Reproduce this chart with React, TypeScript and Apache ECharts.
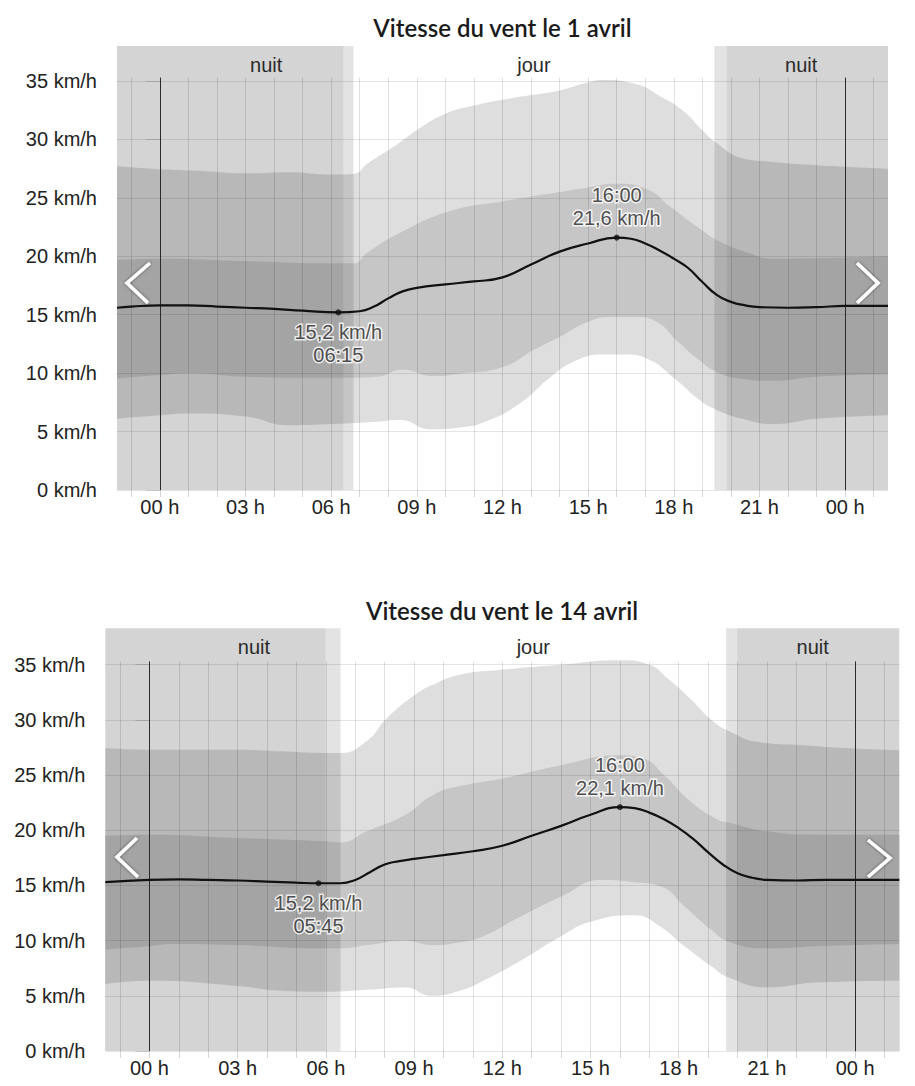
import React, { useEffect, useRef } from "react";
import * as echarts from "echarts";

// ---------- shared axes ----------
const HOUR_MIN = -1.5;
const HOUR_MAX = 25.5;
const X_LABEL_HOURS = [0, 3, 6, 9, 12, 15, 18, 21, 24];
const GRID_HOURS = [-1, 0, 1, 2, 3, 4, 5, 6, 7, 8, 9, 10, 11, 12, 13, 14, 15, 16, 17, 18, 19, 20, 21, 22, 23, 24, 25];
const Y_TICKS = [0, 5, 10, 15, 20, 25, 30, 35];
const V_LINE_TOP = 35.3;

// ---------- chart 1 : 1 avril ----------
const TITLE_1 = "Vitesse du vent le 1 avril";
const MEDIAN_1: [number, number][] = [
  [-1.5, 15.6], [-1, 15.7], [0, 15.8], [1, 15.8], [2, 15.7], [3, 15.6], [4, 15.5], [5, 15.35],
  [6.25, 15.2], [7, 15.3], [7.5, 15.7], [8, 16.4], [8.5, 17.0], [9, 17.3], [10, 17.6], [11, 17.85],
  [12, 18.2], [13, 19.3], [14, 20.4], [15, 21.1], [16, 21.6], [16.5, 21.5], [17, 21.1], [17.5, 20.5],
  [18, 19.8], [18.5, 19.0], [19, 17.8], [19.5, 16.7], [20, 16.1], [20.5, 15.8], [21, 15.65], [22, 15.6],
  [23, 15.65], [24, 15.75], [25.5, 15.75],
];
const OUTER_HIGH_1: [number, number][] = [
  [-1.5, 27.7], [0, 27.45], [1.5, 27.3], [3, 27.1], [4.5, 27.2], [6, 27.0], [6.8, 27.05], [7.25, 27.9],
  [8.2, 29.4], [9, 30.8], [10, 32.2], [11, 32.9], [12, 33.4], [13, 33.8], [14, 34.2], [15, 34.9],
  [15.5, 35.1], [16.6, 34.8], [17.6, 33.6], [18.3, 32.5], [19, 30.8], [19.5, 29.7], [20.4, 28.4],
  [21.4, 28.1], [23, 27.8], [25.5, 27.5],
];
const INNER_HIGH_1: [number, number][] = [
  [-1.5, 19.7], [0, 19.8], [3, 19.6], [6, 19.4], [6.8, 19.4], [7.25, 20.3], [8.4, 22.0], [10.2, 23.9],
  [12, 24.7], [14, 25.5], [15, 25.9], [16, 26.2], [17, 25.8], [17.9, 24.2], [19, 22.2], [19.5, 21.4],
  [20.6, 20.3], [21.5, 19.8], [24, 19.9], [25.5, 20.0],
];
const INNER_LOW_1: [number, number][] = [
  [-1.5, 9.55], [0, 9.85], [1, 10.0], [3, 9.7], [6, 9.6], [7.6, 9.7], [8.5, 10.3], [9.6, 9.75],
  [10.5, 9.95], [12, 10.5], [13.1, 12.0], [14, 13.1], [15, 14.4], [15.8, 14.8], [16.7, 14.8],
  [17.4, 14.4], [18.1, 12.8], [18.9, 11.1], [19.5, 10.1], [20.3, 9.55], [21.5, 9.35], [23, 9.7], [25.5, 9.9],
];
const OUTER_LOW_1: [number, number][] = [
  [-1.5, 6.1], [0, 6.4], [1, 6.55], [3, 6.3], [4.5, 5.55], [6, 5.65], [7.6, 5.85], [8.4, 6.0],
  [9.5, 5.2], [10.5, 5.35], [11.4, 5.85], [12.6, 7.4], [13.7, 9.7], [14.6, 11.1], [15.5, 11.6],
  [16.3, 11.6], [17, 11.3], [18.1, 9.4], [18.9, 7.7], [19.5, 6.85], [20.4, 6.1], [21.5, 5.65], [23, 6.1], [25.5, 6.4],
];
const NIGHTS_1: [number, number][] = [[-1.5, 6.43], [19.85, 25.5]];
const TWILIGHTS_1: [number, number][] = [[6.43, 6.78], [19.42, 19.85]];
const PERIOD_BOUNDS_1: [number, number][] = [[-1.5, 6.78], [6.78, 19.42], [19.42, 25.5]];
const MIN_POINT_1: [number, number] = [6.25, 15.2];
const MAX_POINT_1: [number, number] = [16, 21.6];

// ---------- chart 2 : 14 avril ----------
const TITLE_2 = "Vitesse du vent le 14 avril";
const MEDIAN_2: [number, number][] = [
  [-1.5, 15.3], [0, 15.5], [1, 15.55], [2, 15.5], [3, 15.45], [4, 15.35], [5, 15.25], [5.75, 15.2],
  [6.5, 15.2], [7, 15.5], [7.5, 16.2], [8, 16.9], [8.5, 17.2], [9, 17.4], [10, 17.75], [11, 18.1],
  [12, 18.6], [13, 19.5], [14, 20.4], [15, 21.4], [16, 22.1], [16.5, 22.0], [17, 21.6], [17.5, 21.0],
  [18, 20.2], [18.5, 19.2], [19, 18.0], [19.5, 16.9], [20, 16.1], [20.5, 15.7], [21, 15.5], [22, 15.45],
  [23, 15.5], [24, 15.5], [25.5, 15.5],
];
const OUTER_HIGH_2: [number, number][] = [
  [-1.5, 27.45], [0, 27.3], [3, 27.3], [4.5, 27.15], [6, 27.0], [6.5, 27.0], [7.4, 28.1], [8.06, 30.1],
  [9, 32.2], [9.65, 33.2], [10.56, 34.1], [12, 34.55], [14, 35.0], [16, 35.4], [17, 35.0], [17.65, 33.7],
  [18.4, 31.9], [19.2, 29.8], [19.7, 29.0], [20.7, 28.0], [22.2, 27.7], [24, 27.4], [25.5, 27.25],
];
const INNER_HIGH_2: [number, number][] = [
  [-1.5, 19.5], [0, 19.6], [3, 19.3], [6, 19.0], [6.5, 18.9], [7.4, 19.9], [8.7, 21.4], [9.65, 23.2],
  [10.56, 24.0], [12, 24.7], [14, 25.9], [16, 26.8], [16.8, 26.5], [17.5, 25.0], [18.4, 22.6],
  [19.3, 21.0], [19.7, 20.7], [21, 19.9], [22.7, 19.6], [25.5, 19.6],
];
const INNER_LOW_2: [number, number][] = [
  [-1.5, 9.2], [0, 9.5], [0.8, 9.7], [3, 9.6], [6, 9.3], [6.5, 9.3], [7.4, 9.6], [8.7, 10.0],
  [9.65, 9.6], [10.56, 9.85], [11.35, 10.4], [12.5, 12.0], [14, 14.0], [15.4, 15.5], [16.5, 15.3],
  [17.4, 14.9], [18.2, 13.1], [19.1, 11.0], [19.7, 9.9], [21, 9.3], [22.7, 9.5], [25.5, 9.7],
];
const OUTER_LOW_2: [number, number][] = [
  [-1.5, 6.06], [0, 6.36], [3, 5.9], [4.5, 5.46], [6, 5.37], [7.4, 5.55], [8.7, 5.76], [9.6, 5.0],
  [10.56, 5.46], [11.35, 6.36], [12.5, 8.0], [14, 10.4], [15, 11.7], [16.5, 12.3], [17.3, 11.4],
  [18.2, 9.5], [19.1, 7.7], [19.7, 6.65], [21, 5.76], [22.7, 6.2], [25.5, 6.36],
];
const NIGHTS_2: [number, number][] = [[-1.5, 5.99], [19.99, 25.5]];
const TWILIGHTS_2: [number, number][] = [[5.99, 6.5], [19.61, 19.99]];
const PERIOD_BOUNDS_2: [number, number][] = [[-1.5, 6.5], [6.5, 19.61], [19.61, 25.5]];
const MIN_POINT_2: [number, number] = [5.75, 15.2];
const MAX_POINT_2: [number, number] = [16, 22.1];

const PERIOD_NAMES = ["nuit", "jour", "nuit"];

// ---------- helpers ----------
const FONT = "Liberation Sans";
const pad = (n: number) => (n < 10 ? "0" + n : String(n));
const fmtTime = (h: number) => {
  const hh = Math.floor(h);
  const mm = Math.round((h - hh) * 60);
  return pad(hh) + ":" + pad(mm);
};
const fmtSpeed = (v: number) => v.toFixed(1).replace(".", ",") + " km/h";

interface ChartCfg {
  title: string;
  median: [number, number][];
  outerHigh: [number, number][];
  innerHigh: [number, number][];
  innerLow: [number, number][];
  outerLow: [number, number][];
  nights: [number, number][];
  twilights: [number, number][];
  periods: [number, number][];
  minPoint: [number, number];
  maxPoint: [number, number];
  grid: { left: number; top: number; width: number; height: number };
  yMax: number;
  titleX: number;
  titleY: number;
  periodShift: number[];
  chevrons: [number, number][][];
}

const CHARTS: ChartCfg[] = [
  {
    title: TITLE_1, median: MEDIAN_1, outerHigh: OUTER_HIGH_1, innerHigh: INNER_HIGH_1,
    innerLow: INNER_LOW_1, outerLow: OUTER_LOW_1, nights: NIGHTS_1, twilights: TWILIGHTS_1,
    periods: PERIOD_BOUNDS_1, minPoint: MIN_POINT_1, maxPoint: MAX_POINT_1,
    grid: { left: 109, top: 38, width: 771, height: 444 }, yMax: 38,
    titleX: 494.5, titleY: 19, periodShift: [31, 0, 0],
    chevrons: [
      [[142, 255], [119, 275], [140, 295]],
      [[849, 255], [870, 275], [849, 295]],
    ],
  },
  {
    title: TITLE_2, median: MEDIAN_2, outerHigh: OUTER_HIGH_2, innerHigh: INNER_HIGH_2,
    innerLow: INNER_LOW_2, outerLow: OUTER_LOW_2, nights: NIGHTS_2, twilights: TWILIGHTS_2,
    periods: PERIOD_BOUNDS_2, minPoint: MIN_POINT_2, maxPoint: MAX_POINT_2,
    grid: { left: 97.3, top: 620.3, width: 794, height: 427.7 }, yMax: 38.3,
    titleX: 494, titleY: 602, periodShift: [31, 0, 0],
    chevrons: [
      [[129, 830], [109, 849], [130, 869]],
      [[860, 832], [882, 850], [860, 869]],
    ],
  },
];

function bandSeries(data: [number, number][], color: string, idx: number, extra: any = {}) {
  return {
    type: "line",
    xAxisIndex: idx,
    yAxisIndex: idx,
    data,
    smooth: 0.5,
    symbol: "none",
    silent: true,
    z: 1,
    lineStyle: { width: 0, opacity: 0 },
    areaStyle: { color, opacity: 1 },
    ...extra,
  };
}

function buildOption() {
  const grids: any[] = [];
  const xAxes: any[] = [];
  const yAxes: any[] = [];
  const series: any[] = [];
  const graphic: any[] = [];

  CHARTS.forEach((cfg, idx) => {
    grids.push({ ...cfg.grid, containLabel: false });
    xAxes.push({
      type: "value",
      gridIndex: idx,
      min: HOUR_MIN,
      max: HOUR_MAX,
      axisLine: { show: false },
      splitLine: { show: false },
      axisTick: { show: true, customValues: GRID_HOURS, length: 7, lineStyle: { color: "#d6d6d6" } },
      axisLabel: {
        customValues: X_LABEL_HOURS,
        formatter: (v: number) => pad(Math.round(v) % 24) + " h",
        margin: 7,
        fontSize: 20,
        fontFamily: FONT,
        color: "#222",
      },
    });
    yAxes.push({
      type: "value",
      gridIndex: idx,
      min: 0,
      max: cfg.yMax,
      axisLine: { show: false },
      splitLine: { show: false },
      axisTick: { show: true, customValues: Y_TICKS, length: 14, lineStyle: { color: "#dcdcdc" } },
      axisLabel: {
        customValues: Y_TICKS,
        formatter: (v: number) => v + " km/h",
        margin: 20,
        fontSize: 20,
        fontFamily: FONT,
        color: "#222",
      },
    });

    const gridLineData: any[] = [];
    Y_TICKS.forEach((v) => {
      const ls = { color: "rgba(0,0,0,0.1)", width: 1, type: "solid" };
      gridLineData.push([{ coord: [HOUR_MIN, v], lineStyle: ls }, { coord: [HOUR_MAX, v], lineStyle: ls }]);
    });
    GRID_HOURS.forEach((h) => {
      const midnight = h % 24 === 0;
      const ls = midnight
        ? { color: "#2a2a2a", width: 1, type: "solid" }
        : { color: "rgba(0,0,0,0.12)", width: 1, type: "solid" };
      gridLineData.push([{ coord: [h, 0], lineStyle: ls }, { coord: [h, V_LINE_TOP], lineStyle: ls }]);
    });

    series.push(bandSeries(cfg.outerHigh, "#dedede", idx));
    series.push(bandSeries(cfg.innerHigh, "#c6c6c6", idx));
    series.push(bandSeries(cfg.innerLow, "#dedede", idx));
    series.push(
      bandSeries(cfg.outerLow, "#ffffff", idx, {
        markLine: {
          silent: true,
          z: 4,
          symbol: ["none", "none"],
          label: { show: false },
          animation: false,
          data: gridLineData,
        },
      })
    );

    const shades = [
      ...cfg.nights.map((r) => ({ from: r[0], to: r[1], fill: "rgba(0,0,0,0.17)" })),
      ...cfg.twilights.map((r) => ({ from: r[0], to: r[1], fill: "rgba(0,0,0,0.11)" })),
    ];
    series.push({
      type: "custom",
      xAxisIndex: idx,
      yAxisIndex: idx,
      z: 3,
      silent: true,
      data: shades.map((s) => [s.from, s.to]),
      encode: { x: [0, 1] },
      renderItem: (params: any, api: any) => {
        const s = shades[params.dataIndex];
        const a = api.coord([s.from, cfg.yMax]);
        const b = api.coord([s.to, 0]);
        return {
          type: "rect",
          shape: { x: a[0], y: a[1], width: b[0] - a[0], height: b[1] - a[1] },
          style: { fill: s.fill },
        };
      },
    });

    series.push({
      type: "custom",
      xAxisIndex: idx,
      yAxisIndex: idx,
      z: 5,
      silent: true,
      data: cfg.periods.map((p) => [p[0], p[1]]),
      encode: { x: [0, 1] },
      renderItem: (params: any, api: any) => {
        const p = cfg.periods[params.dataIndex];
        const a = api.coord([p[0], cfg.yMax]);
        const b = api.coord([p[1], cfg.yMax]);
        return {
          type: "text",
          style: {
            text: PERIOD_NAMES[params.dataIndex],
            x: (a[0] + b[0]) / 2 + cfg.periodShift[params.dataIndex],
            y: a[1] + 19,
            align: "center",
            verticalAlign: "middle",
            textAlign: "center",
            textVerticalAlign: "middle",
            fill: "#2a2a2a",
            font: "20px " + FONT,
          },
        };
      },
    });

    series.push({
      type: "line",
      xAxisIndex: idx,
      yAxisIndex: idx,
      data: cfg.median,
      smooth: 0.5,
      symbol: "none",
      silent: true,
      z: 6,
      lineStyle: { color: "#111", width: 2.2 },
    });

    const labelBase = {
      show: true,
      fontSize: 20,
      lineHeight: 23,
      fontFamily: FONT,
      color: "#222",
      textBorderColor: "#fff",
      textBorderWidth: 3,
      distance: 5,
    };
    series.push({
      type: "scatter",
      xAxisIndex: idx,
      yAxisIndex: idx,
      z: 7,
      silent: true,
      symbolSize: 6,
      itemStyle: { color: "#111" },
      data: [
        {
          value: cfg.maxPoint,
          label: { ...labelBase, position: "top", formatter: fmtTime(cfg.maxPoint[0]) + "\n" + fmtSpeed(cfg.maxPoint[1]) },
        },
        {
          value: cfg.minPoint,
          label: { ...labelBase, position: "bottom", formatter: fmtSpeed(cfg.minPoint[1]) + "\n" + fmtTime(cfg.minPoint[0]) },
        },
      ],
    });

    graphic.push({
      type: "text",
      x: cfg.titleX,
      y: cfg.titleY,
      z: 100,
      style: {
        text: cfg.title,
        align: "center",
        verticalAlign: "middle",
        textAlign: "center",
        textVerticalAlign: "middle",
        fill: "#1a1a1a",
        font: "600 24px Lato",
      },
    });
    cfg.chevrons.forEach((pts) => {
      graphic.push({
        type: "polyline",
        z: 100,
        silent: true,
        shape: { points: pts },
        style: {
          stroke: "#ffffff",
          lineWidth: 3.5,
          fill: null,
          shadowBlur: 3,
          shadowColor: "rgba(0,0,0,0.55)",
        },
      });
    });
  });

  return {
    animation: false,
    backgroundColor: "#ffffff",
    grid: grids,
    xAxis: xAxes,
    yAxis: yAxes,
    series,
    graphic,
  };
}

export default function App() {
  const ref = useRef<HTMLDivElement>(null);
  useEffect(() => {
    if (!ref.current) return;
    const chart = echarts.init(ref.current, undefined, { renderer: "svg" });
    chart.setOption(buildOption() as any);
    return () => chart.dispose();
  }, []);
  return <div ref={ref} style={{ width: 899, height: 1070 }} />;
}
